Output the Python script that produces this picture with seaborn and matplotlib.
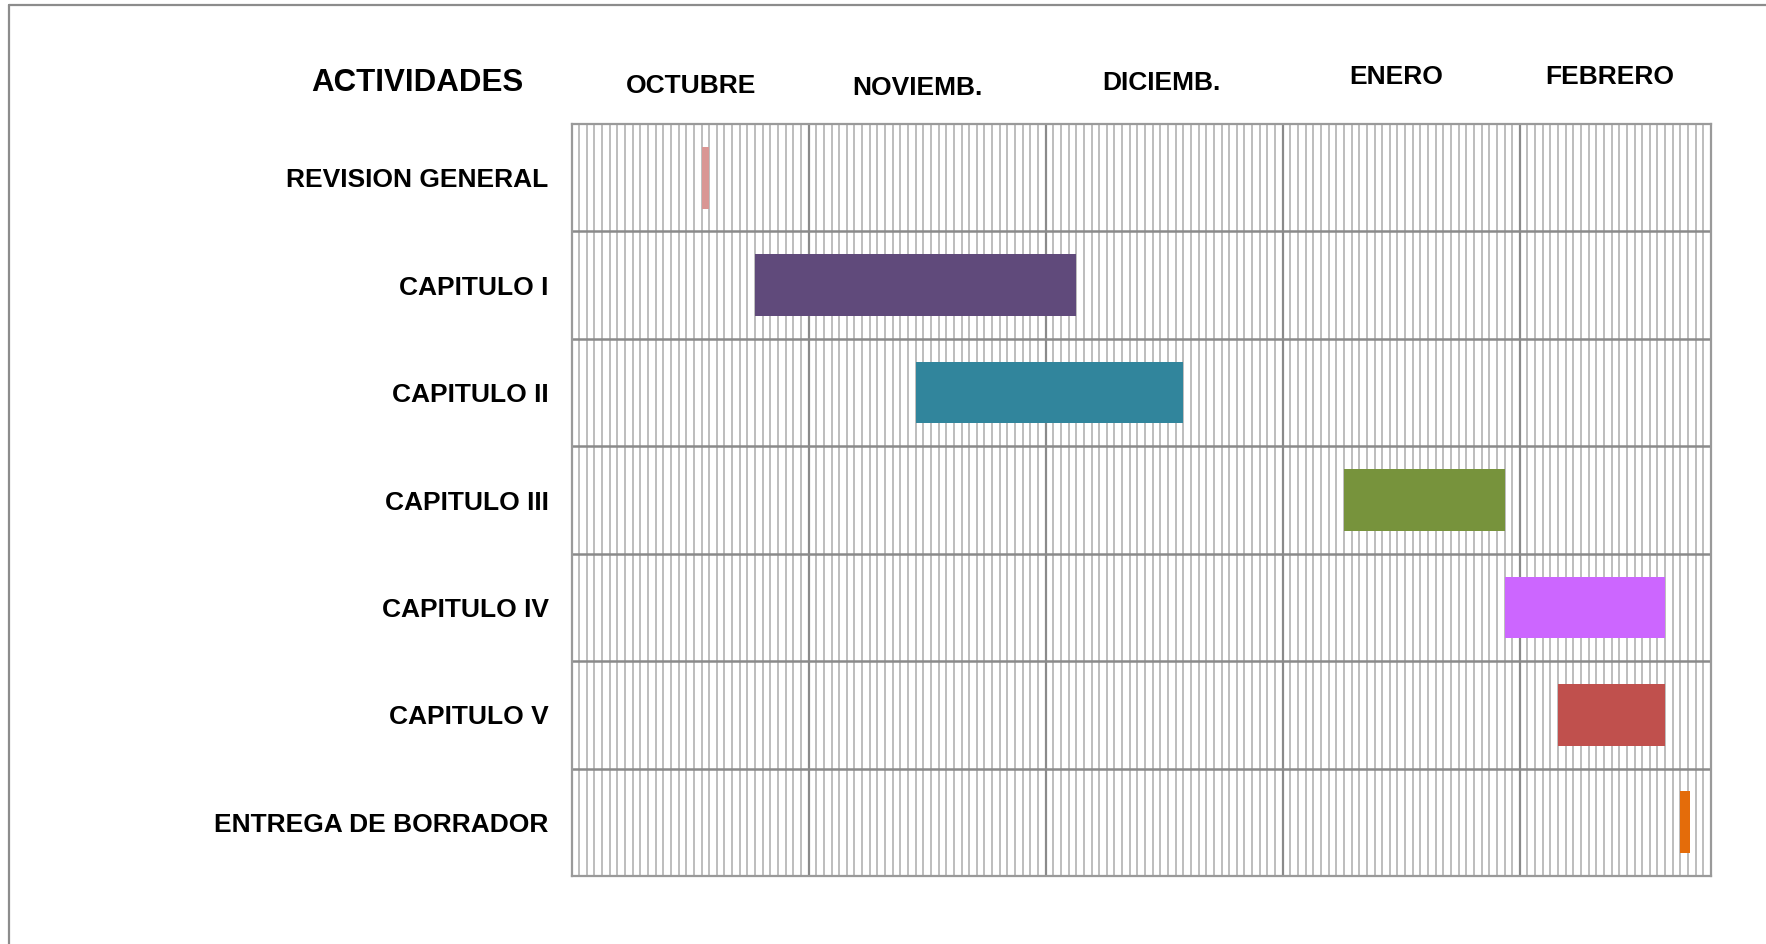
import matplotlib
matplotlib.use("Agg")
import matplotlib.pyplot as plt
from matplotlib.lines import Line2D
import seaborn as sns

# Gantt data (days counted from 1 October)
actividades = ["REVISION GENERAL", "CAPITULO I", "CAPITULO II", "CAPITULO III",
               "CAPITULO IV", "CAPITULO V", "ENTREGA DE BORRADOR"]
inicio = [17, 24, 45, 101, 122, 129, 145]
duracion = [1, 42, 35, 21, 21, 14, 1.2]
colores = ["#D99694", "#604A7B", "#31859C", "#77933C", "#CC66FF", "#C0504D", "#E46C0A"]

meses = ["OCTUBRE", "NOVIEMB.", "DICIEMB.", "ENERO", "FEBRERO"]
dias_total = 149
mes_largo = 31

sns.set_theme(style="white")
plt.rcParams["font.family"] = ["Liberation Sans", "DejaVu Sans"]

W, H = 1766, 944
fig = plt.figure(figsize=(W / 100, H / 100), dpi=100)
left, right, top, bottom = 571.5, 1711, 124, 876
ax = fig.add_axes([left / W, (H - bottom) / H, (right - left) / W, (bottom - top) / H])

# grid: one line per day, darker line per month, one line per row
for d in range(1, dias_total):
    if d % mes_largo == 0:
        ax.axvline(d, color="#8a8a8a", lw=1.6, zorder=1)
    else:
        ax.axvline(d, color="#bdbdbd", lw=1.4, zorder=0.5)
for r in range(1, len(actividades)):
    ax.axhline(r - 0.5, color="#8a8a8a", lw=1.8, zorder=1.2)

ax.barh(range(len(actividades)), duracion, left=inicio, height=0.575,
        color=colores, edgecolor="none", linewidth=0, zorder=2)

ax.set_xlim(0, dias_total)
ax.set_ylim(len(actividades) - 0.5, -0.5)
ax.set_xticks([])
ax.set_yticks(range(len(actividades)))
ax.set_yticklabels(actividades, fontsize=19, fontweight="bold", color="black")
ax.tick_params(axis="y", length=0, pad=16.5)
for s in ax.spines.values():
    s.set_color("#9a9a9a")
    s.set_linewidth(1.6)

# header
fig.text(417 / W, 1 - 83 / H, "ACTIVIDADES", fontsize=22.5, fontweight="bold",
         color="black", ha="center", va="center")
mes_x = [15.6, 45.2, 77.2, 107.9, 135.7]
mes_y = [86, 88, 82.5, 76.5, 76.5]
for nombre, mx, my in zip(meses, mes_x, mes_y):
    fx = (left + mx * (right - left) / dias_total) / W
    fig.text(fx, 1 - my / H, nombre, fontsize=19, fontweight="bold",
             color="black", ha="center", va="center")

# outer border (clipped at right and bottom)
fig.add_artist(Line2D([9 / W, 1], [1 - 5 / H, 1 - 5 / H], color="#8c8c8c", lw=1.6))
fig.add_artist(Line2D([9 / W, 9 / W], [0, 1 - 5 / H], color="#8c8c8c", lw=1.6))

fig.savefig("out.png", dpi=100, facecolor="white")
